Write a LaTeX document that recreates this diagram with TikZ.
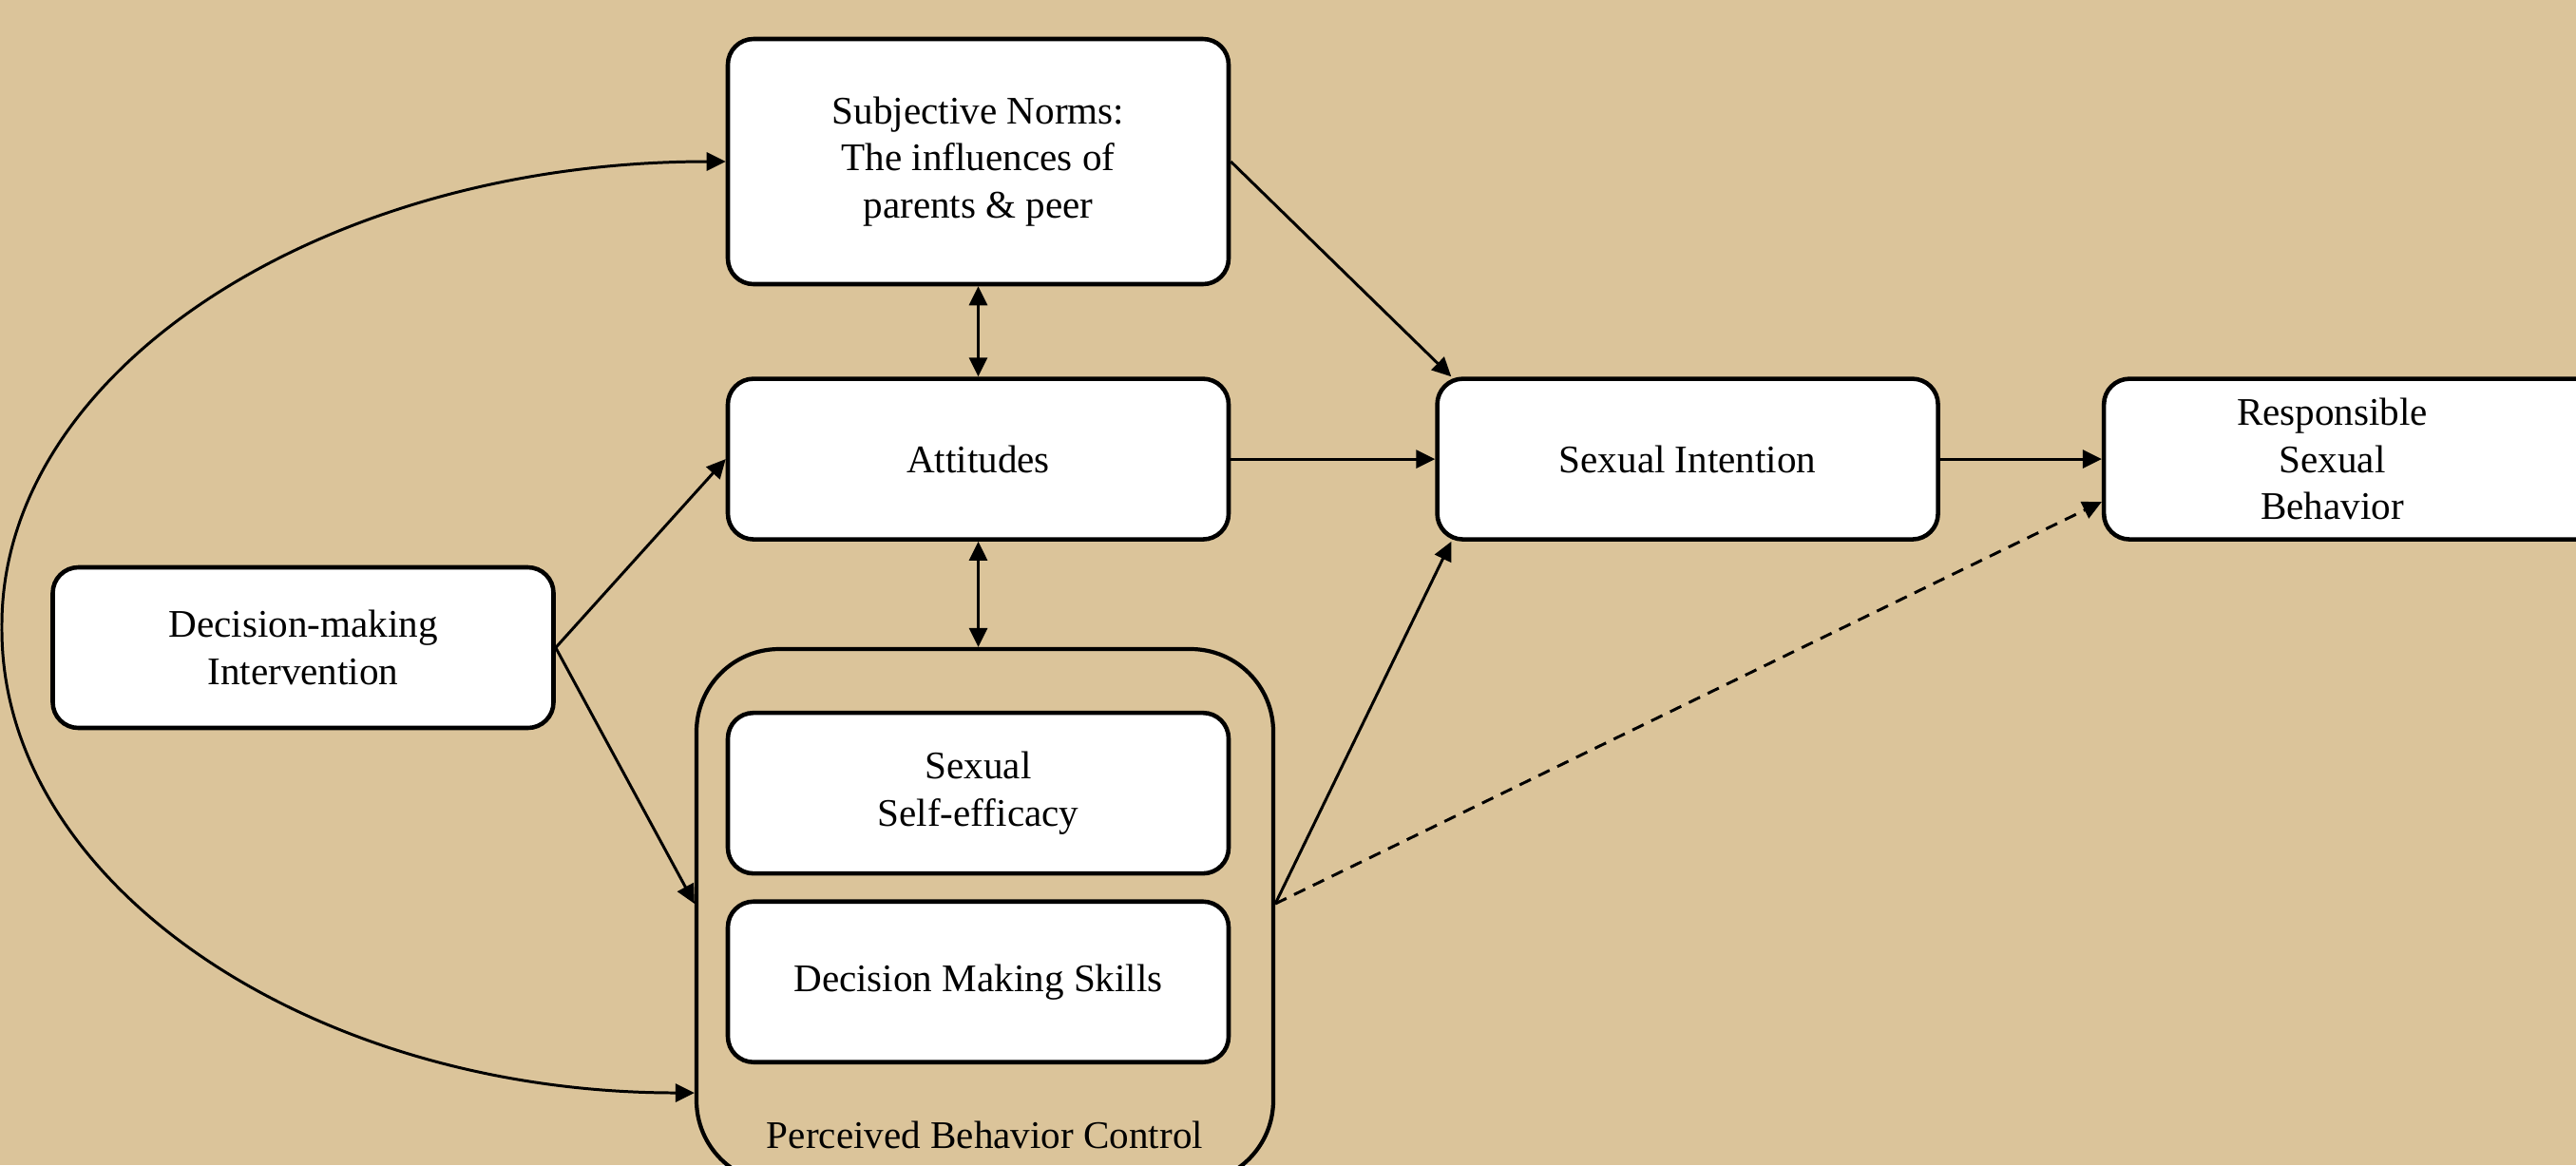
\documentclass[tikz,border=0pt]{standalone}
\usepackage{fontspec}
\setmainfont{Liberation Serif}
\usetikzlibrary{arrows.meta,positioning}
\definecolor{sand}{RGB}{219,196,154}
\definecolor{ink}{HTML}{000000}
\tikzset{
  box/.style={rounded corners=2.7mm,draw=ink,fill=white,line width=1.3pt,
              inner sep=2pt,align=center,text=ink,font=\fontsize{11.7}{14}\selectfont,
              minimum width=5.27cm,minimum height=1.69cm},
  tallbox/.style={box,minimum height=2.58cm},
  pbcbox/.style={rounded corners=8.7mm,draw=ink,line width=1.2pt,
                 minimum width=6.07cm,minimum height=5.62cm},
  flow/.style={-{Triangle[length=2mm,width=1.9mm]},line width=0.85pt,draw=ink},
  biflow/.style={{Triangle[length=2mm,width=1.9mm]}-{Triangle[length=2mm,width=1.9mm]},
                 line width=0.85pt,draw=ink},
  softflow/.style={flow,dash pattern=on 1.3mm off 0.9mm}
}

\begin{document}
\begin{tikzpicture}[node distance=0.95cm and 2.15cm]
    \useasboundingbox (0,0) rectangle (27.11,-12.26);
    \clip (0,0) rectangle (27.11,-12.26);
    \fill[sand] (0,0) rectangle (27.11,-12.26);
    \node[pbcbox,label={[anchor=base,yshift=0.39cm,font=\fontsize{11.7}{14}\selectfont]south:Perceived Behavior Control}] (pbc) at (10.365,-9.64) {};
    \node[tallbox] (norms) at (10.295,-1.70) {Subjective Norms:\\The influences of\\parents \& peer};
    \node[box,below=of norms] (att) {Attitudes};
    \node[box,right=of att] (intent) {Sexual Intention};
    \node[box,right=1.7cm of intent] (behav) {\hspace*{-0.46cm}Responsible\\\hspace*{-0.46cm}Sexual\\\hspace*{-0.46cm}Behavior};
    \node[box] (interv) at (3.19,-6.815) {Decision-making\\Intervention};
    \node[box,below=1.78cm of att] (self) {Sexual\\Self-efficacy};
    \node[box,below=0.25cm of self] (skills) {Decision Making Skills};
    \coordinate (arcL) at (0.02,-6.6);
    \draw[flow] (interv.east) -- (att.west);
    \draw[flow] (interv.east) -- ([yshift=0.13cm]pbc.west);
    \draw[biflow] (norms.south) -- (att.north);
    \draw[biflow] (att.south) -- (att.south |- pbc.north);
    \draw[flow] (norms.east) -- ([xshift=0.17cm]intent.north west);
    \draw[flow] (att) -- (intent);
    \draw[flow] (intent) -- (behav);
    \draw[flow] ([yshift=0.13cm]pbc.east) -- ([xshift=0.17cm]intent.south west);
    \draw[softflow] ([yshift=0.13cm]pbc.east) -- ([yshift=-0.45cm]behav.west);
    \draw[biflow] (norms.west) .. controls +(-4.23,0) and (0,-3.89) .. (arcL)
                  .. controls (0,-9.31) and (3.28,-11.5) .. ([yshift=-1.86cm]pbc.west);
\end{tikzpicture}
\end{document}
